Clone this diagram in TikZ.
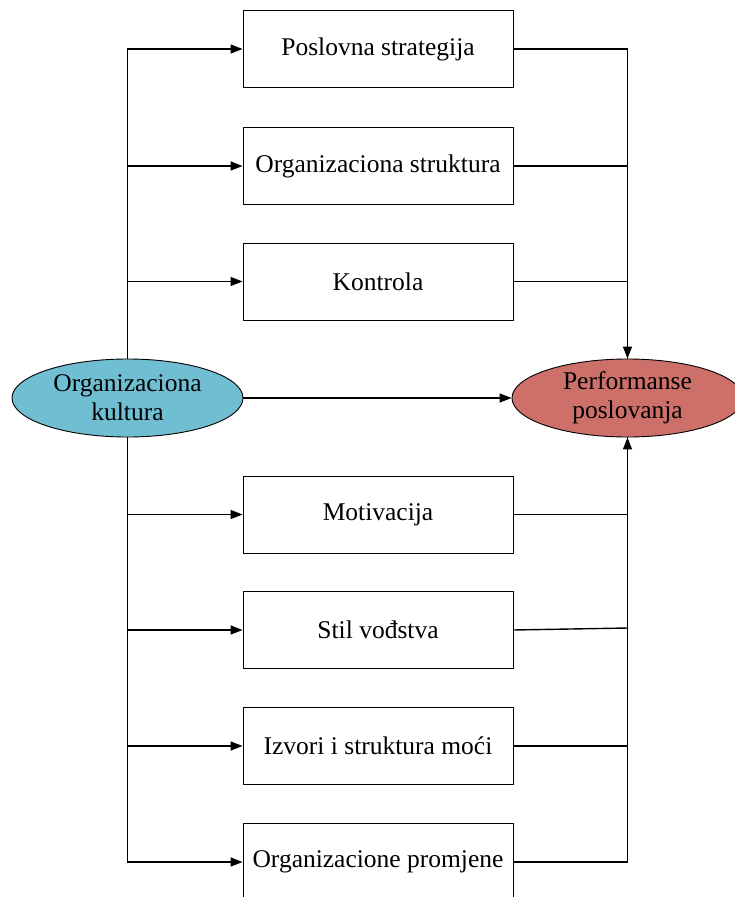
\documentclass[tikz,border=0pt]{standalone}
\usepackage{fontspec}
\setmainfont{Liberation Serif}
\usetikzlibrary{arrows.meta,shapes.geometric}

\begin{document}
\begin{tikzpicture}[x=1pt,y=-1pt,
    faktor/.style={draw,line width=0.9pt,minimum width=270pt,minimum height=77pt,inner sep=0pt,font=\fontsize{25.5}{30}\selectfont},
    kultura/.style={ellipse,draw,line width=0.9pt,minimum width=231pt,minimum height=78pt,inner sep=0pt,align=center,font=\fontsize{25.5}{29}\selectfont},
    veza/.style={line width=1.4pt},
    strel/.style={veza,-{Triangle[length=12pt,width=9pt]}}]
      		\useasboundingbox (0,0) rectangle (734,897);
      		\node[kultura,fill={rgb,255:red,112;green,190;blue,210}] (okult) at (127.5,398) {Organizaciona\\kultura};
      		\node[kultura,fill={rgb,255:red,205;green,112;blue,106}] (perf) at (627.5,398) {Performanse\\poslovanja};
      		\node[faktor] (b1) at (378,49) {Poslovna strategija};
      		\node[faktor] (b2) at (378,166) {Organizaciona struktura};
      		\node[faktor] (b3) at (378,281.5) {Kontrola};
      		\node[faktor] (b4) at (378,514.5) {Motivacija};
      		\node[faktor] (b5) at (378,630) {Stil vođstva};
      		\node[faktor] (b6) at (378,746) {Izvori i struktura moći};
      		\node[faktor] (b7) at (378,862) {Organizacione promjene};
      		\coordinate (s5) at (627.5,628);
      		\draw[strel] (okult) -- (perf);
      		\foreach \b in {b1,b2,b3}
      		    \draw[strel] (okult.north) |- (\b.west);
      		\foreach \b in {b4,b5,b6,b7}
      		    \draw[strel] (okult.south) |- (\b.west);
      		\draw[strel] (b1.east) -| (perf.north);
      		\draw[veza] (b2.east) -| (perf.north);
      		\draw[veza] (b3.east) -| (perf.north);
      		\draw[strel] (b7.east) -| (perf.south);
      		\draw[veza] (b6.east) -| (perf.south);
      		\draw[veza] (b4.east) -| (perf.south);
      		\draw[veza] (b5.east) -- (s5);
\end{tikzpicture}
\end{document}
